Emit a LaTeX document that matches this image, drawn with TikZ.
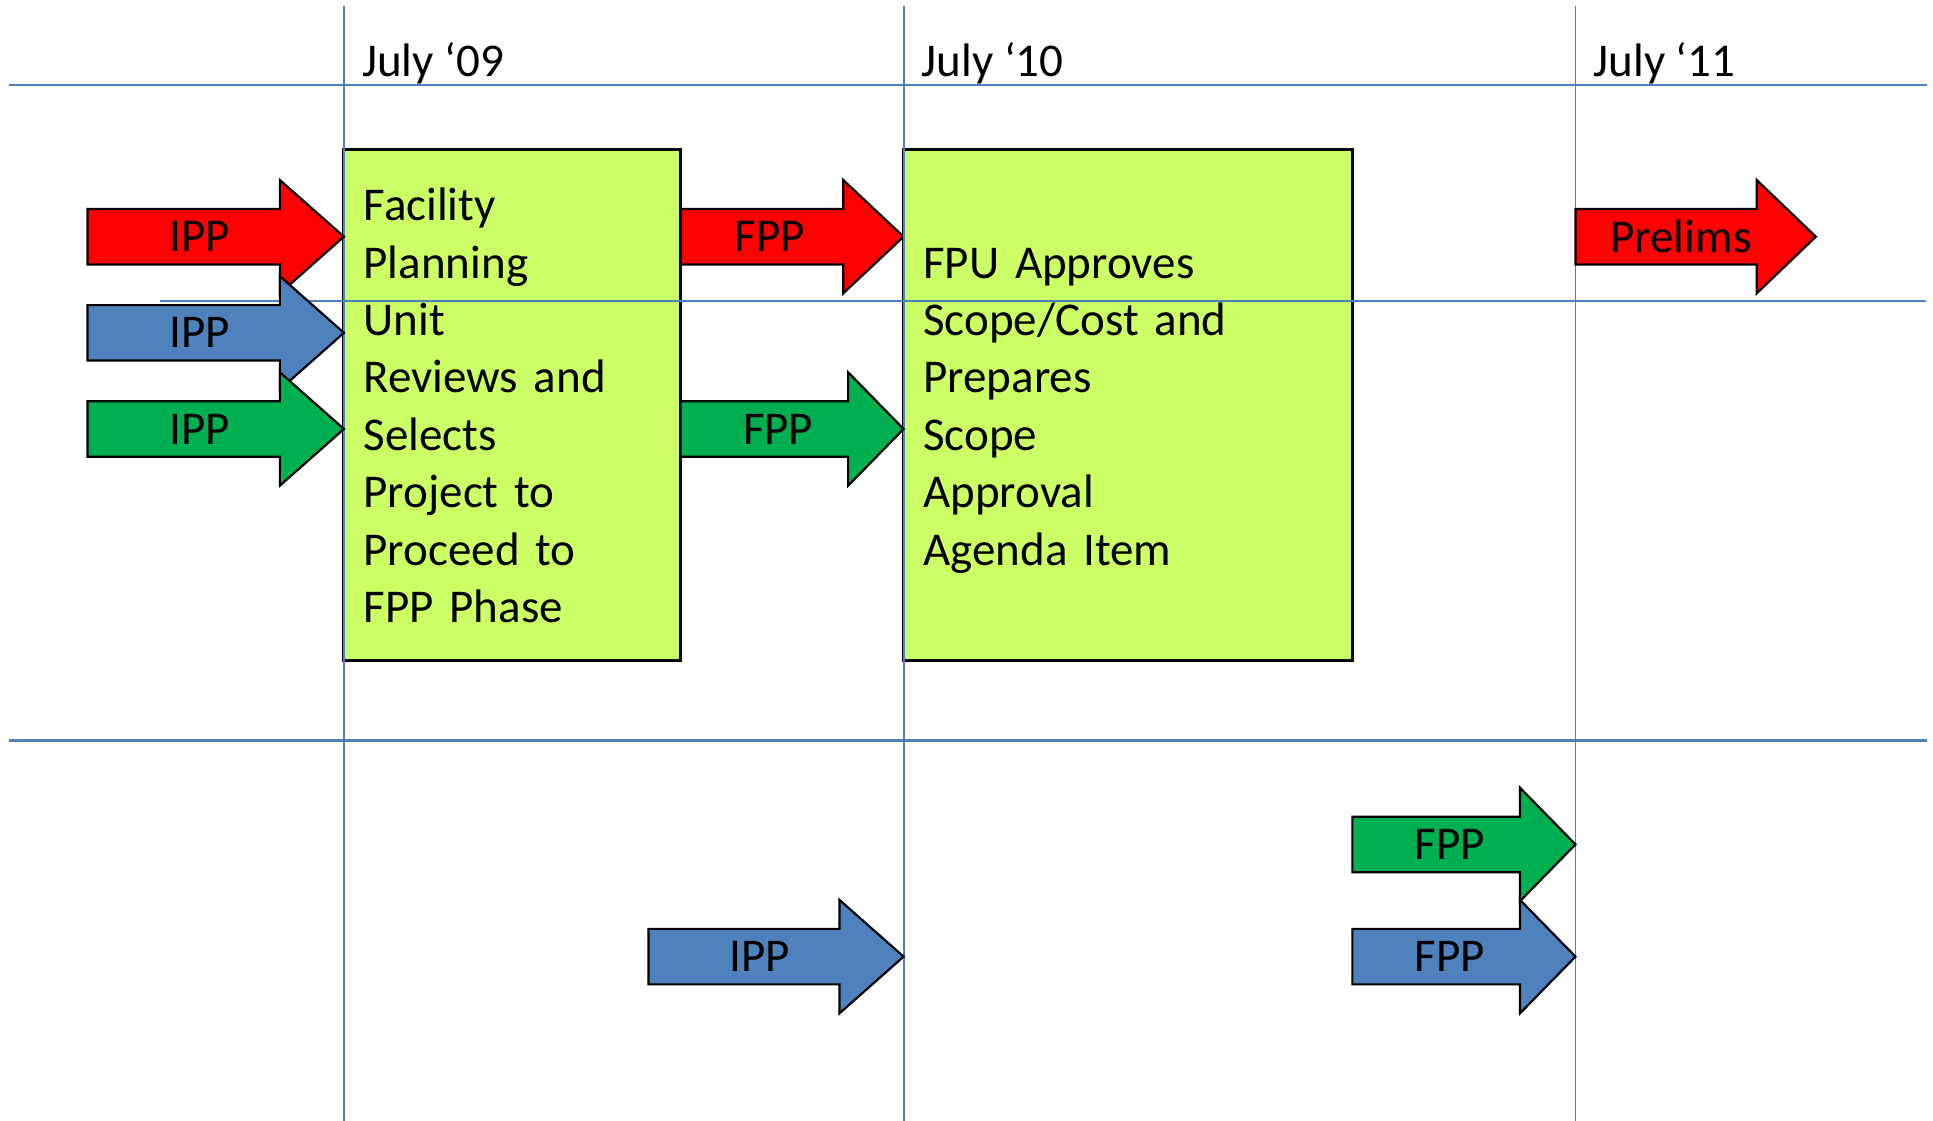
\documentclass[tikz,border=0pt]{standalone}
\usepackage{fontspec}
\setmainfont{Carlito}
\definecolor{gridblue}{HTML}{4F81BD}
\definecolor{ppred}{HTML}{FF0000}
\definecolor{ppblue}{HTML}{4F81BD}
\definecolor{ppgreen}{HTML}{00B050}
\definecolor{boxlime}{HTML}{CCFF66}
\tikzset{
    gridline/.style={gridblue, line width=0.4pt},
    gridthick/.style={gridblue, line width=0.65pt},
    datelabel/.style={anchor=base west, inner sep=0pt, font=\fontsize{10.85}{13.25}\selectfont},
    planbox/.style={draw=black, line width=0.7pt, fill=boxlime, anchor=north west, outer sep=0pt,
        minimum height=41.5mm, inner xsep=1.6mm, inner ysep=0pt, align=left,
        font=\fontsize{10.85}{13.25}\selectfont},
    arrowshape/.style={draw=black, line width=0.5pt, line join=miter},
    arrowlabel/.style={inner sep=0pt, font=\fontsize{10.85}{13.25}\selectfont}
}
% block arrow: name, colour, start x, head x, tip x, axis y, label
\newcommand{\blockarrow}[7]{%
    \draw[arrowshape, fill=#2] (#3,{#6-22.5}) -- (#4,{#6-22.5}) -- (#4,{#6-46}) -- (#5,#6)
        -- (#4,{#6+46}) -- (#4,{#6+22.5}) -- (#3,{#6+22.5}) -- cycle;
    \node[arrowlabel] (#1) at ({(#3+(#4+#5)/2)/2},#6) {#7};
}
% same line box for first and last lines of the boxes
\newcommand{\boxstrut}{\rule[-0.2\baselineskip]{0pt}{0.98\baselineskip}}

\begin{document}
\begin{tikzpicture}[x=0.1mm, y=-0.1mm]
    \useasboundingbox (0,0) rectangle (1568,909);
    % this one starts under the first box
    \blockarrow{fppred}{ppred}{540}{684}{733}{192}{FPP}
    % the two review boxes
    \node[planbox, text width=24.1mm] (fpu) at (279,121) {\boxstrut Facility\\ Planning\\ Unit\\ Reviews and\\ Selects\\ Project to\\ Proceed to\\ FPP Phase\boxstrut};
    \node[planbox, text width=33.2mm] (approve) at (733,121) {\boxstrut FPU Approves\\ Scope/Cost and\\ Prepares\\ Scope\\ Approval\\ Agenda Item\boxstrut};
    % time grid
    \foreach \x/\yr in {279/09, 733/10, 1278/11} {
        \draw[gridline] (\x,5) -- (\x,909);
        \node[datelabel] (july\yr) at (\x+14,61.7) {July ‘\yr};
    }
    \draw[gridthick] (7,69) -- (1563,69);
    \draw[gridline] (130,244) -- (1562,244);
    \draw[gridthick] (7,601) -- (1563,601);
    % arrows
    \blockarrow{ippred}{ppred}{71}{227}{279}{192}{IPP}
    \blockarrow{ippblue}{ppblue}{71}{227}{279}{270}{IPP}
    \blockarrow{ippgreen}{ppgreen}{71}{227}{279}{348}{IPP}
    \blockarrow{fppgreen}{ppgreen}{552}{688}{733}{348}{FPP}
    \blockarrow{prelims}{ppred}{1278}{1425}{1473}{192}{Prelims}
    \blockarrow{ipplate}{ppblue}{526}{681}{733}{776}{IPP}
    \blockarrow{fppgreenlate}{ppgreen}{1097}{1233}{1278}{685}{FPP}
    \blockarrow{fppbluelate}{ppblue}{1097}{1233}{1278}{776}{FPP}
\end{tikzpicture}
\end{document}
